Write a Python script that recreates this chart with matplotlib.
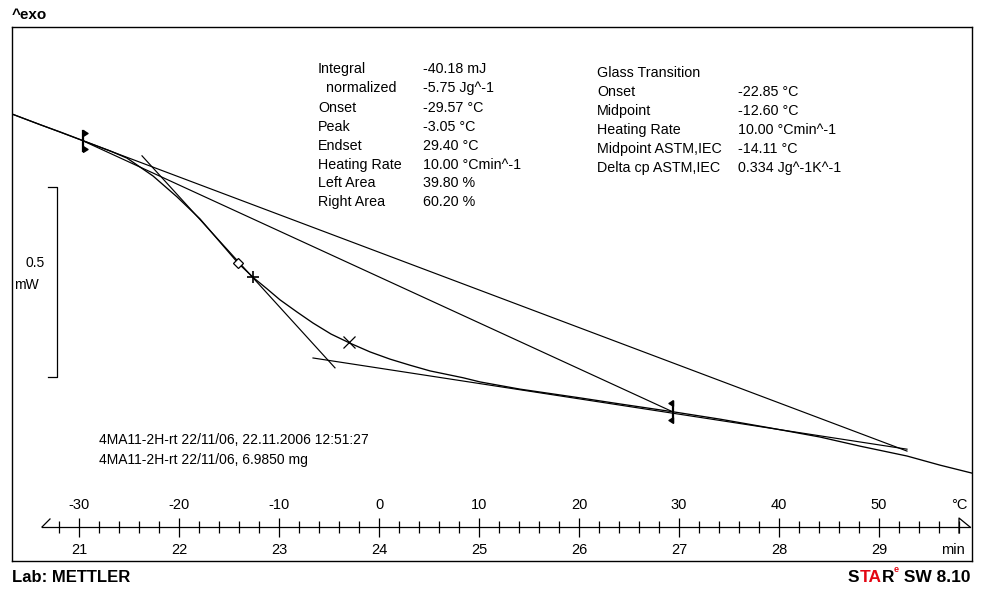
import matplotlib
matplotlib.use("Agg")
from matplotlib import pyplot as plt

plt.rcParams["font.family"] = ["Liberation Sans", "DejaVu Sans"]

# measured DSC curve: temperature (°C) and heat flow (mW)
temperature = [-36.7, -33.9, -31.9, -29.5, -26.9, -25.2, -22.6, -20.2, -17.9, -15.9,
               -14.1, -12.5, -11.2, -9.9, -8.2, -6.6, -4.8, -2.9, -0.9, 1.1,
               3.1, 5.1, 8.4, 10.1, 14.1, 20.1, 24.1, 29.5, 34.1, 39.1,
               44.1, 48.1, 52.8, 56.1, 59.3]
heat_flow = [-0.229, -0.257, -0.276, -0.300, -0.326, -0.345, -0.392, -0.447, -0.505, -0.566,
             -0.621, -0.661, -0.689, -0.718, -0.750, -0.779, -0.808, -0.832, -0.855, -0.874,
             -0.890, -0.905, -0.923, -0.934, -0.953, -0.976, -0.992, -1.013, -1.032, -1.055,
             -1.079, -1.103, -1.129, -1.153, -1.174]

# evaluation lines (start / end)
pre_base_t, pre_base_hf = [-36.7, 52.8], [-0.229, -1.116]
post_base_t, post_base_hf = [-6.6, 52.8], [-0.871, -1.111]
integ_base_t, integ_base_hf = [-29.57, 29.40], [-0.300, -1.013]
tangent_t, tangent_hf = [-23.7, -4.4], [-0.339, -0.897]

# characteristic points
onset = (-29.57, -0.300)
endset = (29.40, -1.013)
peak = (-3.05, -0.830)
midpoint = (-12.60, -0.659)
midpoint_astm = (-14.11, -0.621)

# scale bar (0.5 mW)
scale_t = -32.2
scale_hf = [-0.421, -0.921]

# ruler
temp_major = [-30, -20, -10, 0, 10, 20, 30, 40, 50]
temp_minor = [t for t in range(-32, 59, 2) if t % 10 != 0]
minutes = [21, 22, 23, 24, 25, 26, 27, 28, 29]
heating_rate = 10.0

integral_labels = ["Integral", "  normalized", "Onset", "Peak", "Endset",
                   "Heating Rate", "Left Area", "Right Area"]
integral_values = ["-40.18 mJ", "-5.75 Jg^-1", "-29.57 °C", "-3.05 °C", "29.40 °C",
                   "10.00 °Cmin^-1", "39.80 %", "60.20 %"]
glass_labels = ["Glass Transition", "Onset", "Midpoint", "Heating Rate",
                "Midpoint ASTM,IEC", "Delta cp ASTM,IEC"]
glass_values = ["", "-22.85 °C", "-12.60 °C", "10.00 °Cmin^-1", "-14.11 °C",
                "0.334 Jg^-1K^-1"]
sample_lines = ["4MA11-2H-rt 22/11/06, 22.11.2006 12:51:27",
                "4MA11-2H-rt 22/11/06, 6.9850 mg"]

W, H = 981, 589


def fx(x):
    return x / W


def fy(y):
    return 1 - y / H


fig = plt.figure(figsize=(W / 100, H / 100), dpi=100)
ax = fig.add_axes([fx(12), fy(561), (972 - 12) / W, (561 - 27) / H])
ax.set_xlim(-36.7, 59.3)
ax.set_ylim(-(561 - 27) / 380, 0)
ax.set_xticks([])
ax.set_yticks([])
for sp in ax.spines.values():
    sp.set_linewidth(1.0)

lw = 0.95
ax.plot(temperature, heat_flow, color="black", lw=lw)
for t, hf in [(pre_base_t, pre_base_hf), (post_base_t, post_base_hf),
              (integ_base_t, integ_base_hf), (tangent_t, tangent_hf)]:
    ax.plot(t, hf, color="black", lw=0.85)

# onset / endset limit marks
bar = 10 / 380
right_tri = [(0, 1), (0, -1), (1.6, 0), (0, 1)]
left_tri = [(0, 1), (0, -1), (-1.6, 0), (0, 1)]
for (t, hf), tri in [(onset, right_tri), (endset, left_tri)]:
    ax.plot([t, t], [hf - bar, hf + bar], color="black", lw=1.6)
    ax.plot([t, t], [hf - bar + 0.004, hf + bar - 0.004], ls="none", marker=tri,
            ms=6.5, color="black")

ax.plot(*peak, marker="x", ms=8, mew=0.9, color="black")
ax.plot(*midpoint, marker="+", ms=8, mew=1.2, color="black")
ax.plot(*midpoint_astm, marker="D", ms=5.5, mew=0.9, mfc="white", mec="black")

# scale bar
ax.plot([scale_t - 0.9, scale_t, scale_t, scale_t - 0.9],
        [scale_hf[0], scale_hf[0], scale_hf[1], scale_hf[1]], color="black", lw=0.9)
ax.text(-34.4, -0.621, "0.5", ha="center", va="center", fontsize=10)
ax.text(-35.3, -0.679, "mW", ha="center", va="center", fontsize=10)

# temperature / time ruler
tr = ax.get_xaxis_transform()
line_y, maj_top, maj_bot, min_top, min_bot = 0.0637, 0.0805, 0.0449, 0.0749, 0.0524
ax.plot([-33.7, 59.1], [line_y, line_y], color="black", lw=0.9, transform=tr)
ax.vlines(temp_major, maj_bot, maj_top, color="black", lw=0.9, transform=tr)
ax.vlines(temp_minor, min_bot, min_top, color="black", lw=0.9, transform=tr)
ax.plot([-33.7, -32.9], [line_y, 0.0787], color="black", lw=0.9, transform=tr)
ax.plot([58, 58, 59.1], [min_bot, maj_top, line_y], color="black", lw=0.9, transform=tr)
for t in temp_major:
    ax.text(t, 0.1049, f"{t}", ha="center", va="center", fontsize=10.5, transform=tr)
for m in minutes:
    ax.text((m - 24) * heating_rate, 0.0206, f"{m}", ha="center", va="center",
            fontsize=10.5, transform=tr)
ax.text(58.8, 0.1049, "°C", ha="right", va="center", fontsize=10.5, transform=tr)
ax.text(58.6, 0.0206, "min", ha="right", va="center", fontsize=10.5, transform=tr)

# evaluation results
rows_left = [69, 88, 108, 127, 146, 165, 183, 202]
for y, lab, val in zip(rows_left, integral_labels, integral_values):
    fig.text(fx(318), fy(y), lab, va="center", fontsize=10.3)
    fig.text(fx(423), fy(y), val, va="center", fontsize=10.3)
rows_right = [73, 92, 111, 130, 149, 168]
for y, lab, val in zip(rows_right, glass_labels, glass_values):
    fig.text(fx(597), fy(y), lab, va="center", fontsize=10.3)
    fig.text(fx(738), fy(y), val, va="center", fontsize=10.3)
for y, line in zip([440, 460], sample_lines):
    fig.text(fx(99), fy(y), line, va="center", fontsize=10)

fig.text(fx(12), fy(15), "^exo", va="center", fontsize=11, fontweight="bold")
fig.text(fx(12), fy(577), "Lab: METTLER", va="center", fontsize=12, fontweight="bold")

# STAR logo, pieces chained left to right
renderer = fig.canvas.get_renderer()
x = 848
for s, c, size, y in [("S", "black", 12.5, 577), ("TA", "#e30613", 12.5, 577),
                      ("R", "black", 12.5, 577), ("e", "#e30613", 6.5, 570),
                      (" SW 8.10", "black", 12.5, 577)]:
    t = fig.text(fx(x), fy(y), s, va="center", fontsize=size, fontweight="bold", color=c)
    x += t.get_window_extent(renderer).width

fig.savefig("out.png", dpi=100, facecolor="w")
